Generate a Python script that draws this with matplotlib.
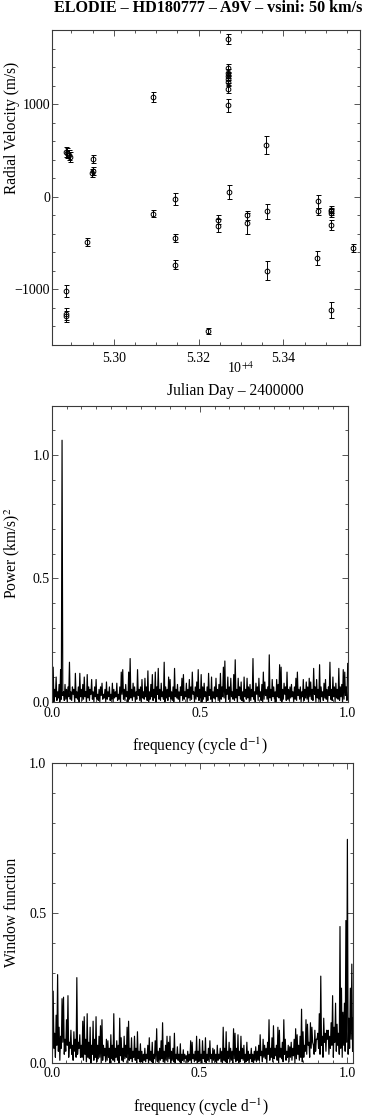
import numpy as np
import matplotlib
matplotlib.use("Agg")
import matplotlib.pyplot as plt
from matplotlib.ticker import MultipleLocator, FuncFormatter

# ---------------- data ----------------
# Radial velocities (ELODIE, HD180777)
jd = [52886.0, 52886.0, 52886.0, 52887.0, 52890.0, 52893.0, 52896.0,
      52935.5, 52949.7, 52949.7, 52949.0,
      53092.8, 53092.8, 53144.0, 53145.0, 53145.0, 53222.7, 53246.0, 53247.0,
      53268.5, 53268.5, 53268.5, 53268.5, 53268.5, 53268.5, 53268.5, 53270.0, 53272.0,
      53314.8, 53314.8, 53358.0, 53360.6, 53360.6,
      53481.0, 53481.0, 53480.0,
      53512.6, 53512.6, 53512.6, 53512.6, 53512.6, 53565.0]
rv = [-1014, -1265, -1290, 485, 470, 455, 430,
      -489, 407, 280, 260,
      1075, -183, -22, -446, -734, -1446, -248, -313,
      1701, 1388, 1340, 1300, 1270, 1240, 1162, 989, 50,
      -201, -288, 561, -158, -798,
      -50, -158, -662,
      -140, -158, -175, -302, -1219, -553]
rv_err = [67, 68, 60, 55, 55, 55, 55,
          40, 45, 45, 45,
          56, 36, 63, 40, 48, 32, 48, 70,
          55, 40, 40, 40, 40, 40, 40, 70, 72,
          45, 110, 100, 85, 100,
          72, 40, 77,
          40, 40, 40, 55, 85, 48]

# Power spectrum: peak heights (hundredths of (km/s)^2) on a 0.005 c/d grid, 0..1
power_peaks = [
    9, 14, 5, 10, 4, 7, 13, 106, 4, 7, 5, 6, 16, 4, 6, 5, 11.5, 4, 6, 11.5,
    5, 7, 10, 4, 11, 6, 5, 9, 4, 6, 9, 3, 5, 6, 7.5, 3, 5, 8, 4, 6,
    3, 7.5, 5, 4, 7.5, 3, 6, 12, 13, 5, 7, 4, 12, 17.5, 5, 7.5, 6, 4, 13, 5,
    6, 9, 4, 9.5, 6, 12.5, 4, 7, 11, 5, 12, 6, 13.5, 5, 7.5, 4, 16, 6, 5, 10,
    9, 4, 6, 13.5, 5, 7, 4, 6, 9.5, 11, 4, 7.5, 5, 9, 6, 12, 4, 6, 8, 13,
    5, 11, 6, 7.5, 4, 6, 11.5, 5, 10, 4, 6, 9.5, 5, 7, 11.5, 6, 14, 16.5, 5, 10,
    6, 9.5, 4, 11, 17, 5, 9.5, 6, 8, 4, 10, 5, 9.5, 6, 7, 5, 17.5, 4, 7.5, 6,
    9.5, 4, 7, 12, 8, 5, 6, 19, 5, 9, 6, 4, 9, 7, 15, 14, 5, 7.5, 6, 12,
    5, 6, 7, 4, 6, 9.5, 12, 5, 6, 4, 9, 5, 8, 6, 9.5, 8, 5, 13.5, 6, 9,
    5, 15, 6, 4, 7.5, 9, 5, 6, 16, 5, 10, 6, 7.5, 5, 13.5, 6, 7, 13, 12, 6,
    15.5]
power_troughs = [
    1, 0, 2, 0.5, 1.5, 0, 1, 2.5, 0.5, 1, 0, 2, 1, 0.5, 3, 0, 1.5, 1, 0, 2,
    0.5, 1, 2, 0, 1.5, 0.5, 3, 1, 0, 2, 1, 0.5, 0, 2.5, 1, 1.5, 0, 1, 2, 0.5,
    1, 0, 1.5, 2, 0.5, 1, 0, 3, 1, 0.5, 2, 0, 1, 1.5, 0.5, 2, 0, 1, 2.5, 0.5,
    0, 1.5, 1, 2, 0.5, 0, 1, 2, 0.5, 1.5, 0, 3, 1, 0.5, 2, 1, 0, 1.5, 0.5, 2,
    1, 0.5, 0, 2, 1.5, 1, 0, 2.5, 0.5, 1, 2, 0, 1.5, 0.5, 1, 3, 0, 1, 2, 0.5,
    1.5, 0, 1, 2, 0, 0.5, 2.5, 1, 0, 1.5, 1, 2, 0.5, 0, 1, 2, 1.5, 0, 3, 1,
    0, 2, 1, 0.5, 1.5, 0, 2.5, 1, 0.5, 0, 2, 1, 1.5, 0, 0.5, 2, 1, 0, 3, 0.5,
    2, 0.5, 0, 1, 2.5, 1, 0, 1.5, 0.5, 2, 1, 0, 2, 1.5, 0.5, 0, 1, 3, 0.5, 1,
    0.5, 1.5, 2, 0, 1, 0.5, 2.5, 1, 0, 2, 0.5, 1.5, 1, 0, 2, 1, 0.5, 3, 0, 1.5,
    1, 0, 2, 0.5, 1.5, 1, 0, 2.5, 1, 0.5, 2, 0, 1.5, 1, 0.5, 2, 0, 1, 2.5, 0.5]

# Window function: peak heights (hundredths) on a 0.005 c/d grid, 0..1.02
window_peaks = [
    20.5, 24, 10, 16, 29.5, 12, 9, 21.5, 22, 8, 14.5, 22.5, 7, 11, 6, 10.5, 8, 28.5, 7, 9.5,
    6, 14, 15.5, 8, 16.5, 7, 12, 6, 14, 8, 15.5, 6, 9, 12.5, 14.5, 6, 5, 8, 7.5, 5,
    9.5, 6, 16.5, 5, 7.5, 6, 15, 8.5, 5, 9, 6, 12, 14, 5, 8.5, 4, 9, 5, 10.5, 4,
    6.5, 4, 3, 5, 3, 6, 8.5, 4, 7, 3, 7.5, 11.5, 4, 5, 7.5, 13.5, 4, 6, 9, 7,
    9, 4, 5, 10, 3, 5.5, 3, 6.5, 3, 4.5, 3, 2.5, 4, 3, 7.5, 7, 3, 4, 9, 4,
    8, 3, 7.5, 4, 8.5, 3, 5, 7.5, 3, 5, 4.5, 3, 6, 3, 5, 4, 12, 5, 10.5, 4,
    7, 5, 4, 11.5, 10, 5, 9.5, 4, 9, 5, 6, 3, 7, 4, 3, 5, 3, 4, 5.5, 4,
    6, 9.5, 4, 8, 6, 5, 7, 14.5, 5, 8.5, 12.5, 5, 6, 12, 11, 5, 7, 14.5, 8, 4,
    6, 5.5, 7, 5, 8, 11.5, 9.5, 6, 9, 18, 10.5, 6, 14.5, 13, 7, 13.5, 12, 6, 11, 8,
    10, 16.5, 29, 9, 15, 10, 11, 11, 9, 13.5, 22.5, 12, 20, 13, 10, 45.5, 25, 17, 20, 47.5,
    74.5, 15, 25, 33, 15]
window_troughs = [
    3, 5, 2, 6, 4, 1, 5, 7, 3, 4, 6, 2, 5, 3, 1, 4, 2, 3, 5, 2,
    2, 1, 3, 0.5, 2, 1.5, 0, 3, 1, 2, 0.5, 1.5, 2, 0, 1, 2.5, 0.5, 1, 2, 0,
    1.5, 1, 0.5, 2, 1, 0, 2.5, 1, 0.5, 1.5, 2, 0, 1, 1.5, 0.5, 2, 1, 0, 1.5, 0.5,
    0.5, 0, 1, 0.5, 1.5, 0, 1, 0.5, 0, 1.5, 1, 0.5, 0, 1, 1.5, 0.5, 0, 1, 0.5, 1.5,
    0, 1, 0.5, 0, 1.5, 1, 0.5, 0, 1, 0.5, 1.5, 0, 0.5, 1, 0, 1.5, 0.5, 1, 0, 0.5,
    1, 0, 1.5, 0.5, 0, 1, 0.5, 1.5, 0, 1, 0.5, 0, 1, 1.5, 0.5, 0, 1, 0.5, 0, 1.5,
    0.5, 1, 0, 1.5, 0.5, 1, 0, 0.5, 1.5, 1, 0, 0.5, 1, 0, 1.5, 0.5, 0, 1, 0.5, 1,
    1, 2.5, 0.5, 2, 1.5, 0, 3, 1, 2, 0.5, 1.5, 2.5, 1, 0, 2, 1.5, 0.5, 3, 1, 2,
    0.5, 2, 1, 2.5, 0, 1.5, 3, 1, 2, 0.5, 2, 4, 3, 6, 2, 5, 7, 3, 4, 8,
    5, 3, 6, 2, 7, 4, 8, 3, 5, 6, 2, 7, 4, 6, 3, 5, 2, 6, 4, 7, 3, 5, 8, 4]

# ---------------- style ----------------
plt.rcParams['font.family'] = ['Liberation Serif', 'DejaVu Serif']
plt.rcParams['mathtext.fontset'] = 'stix'
FRAME = '#3a3a3a'

W, H = 368, 1118
fig = plt.figure(figsize=(W / 100, H / 100), dpi=100)


def px_axes(left, top, right, bottom):
    return fig.add_axes([left / W, 1 - bottom / H, (right - left) / W, (bottom - top) / H])


def style(ax, xpad):
    for s in ax.spines.values():
        s.set_color(FRAME)
        s.set_linewidth(0.8)
    ax.tick_params(which='both', direction='in', top=True, right=True,
                   colors=FRAME, labelcolor='black', labelsize=10, width=0.6)
    ax.tick_params(which='major', length=4.5)
    ax.tick_params(which='minor', length=2.4)
    ax.tick_params(axis='y', pad=1.5)
    ax.tick_params(axis='x', pad=xpad)


def zigzag(peaks, troughs, fmax):
    p = np.asarray(peaks, float) / 100.0
    t = np.asarray(troughs, float) / 100.0
    f = np.linspace(0, fmax, len(p))
    x = np.empty(2 * len(p) - 1)
    y = np.empty_like(x)
    x[0::2] = f
    x[1::2] = 0.5 * (f[:-1] + f[1:])
    y[0::2] = p
    y[1::2] = t
    return x, y


def ftext(xpx, ypx, s, **kw):
    fig.text(xpx / W, 1 - ypx / H, s, ha='center', va='center', **kw)


# ---- Panel 1: radial velocities ----
ax1 = px_axes(52, 30, 360, 345)
ax1.errorbar(jd, rv, yerr=rv_err, fmt='o', mfc='none', mec='black', ecolor='black',
             ms=3.4, mew=0.7, elinewidth=0.7, capsize=1.8, capthick=0.7)
ax1.set_xlim(52854, 53581)
ax1.set_ylim(-1600, 1800)
ax1.xaxis.set_major_locator(MultipleLocator(200))
ax1.xaxis.set_minor_locator(MultipleLocator(50))
ax1.xaxis.set_major_formatter(FuncFormatter(lambda v, p: f"{v / 1e4:.2f}"))
ax1.yaxis.set_major_locator(MultipleLocator(1000))
ax1.yaxis.set_minor_locator(MultipleLocator(200))
ax1.yaxis.set_major_formatter(FuncFormatter(lambda v, p: f"{v:.0f}".replace('-', '\u2212')))
style(ax1, 5.0)

ftext(208, 8, "ELODIE \u2013 HD180777 \u2013 A9V \u2013 vsini: 50 km/s", fontsize=11.6, fontweight='bold')
ftext(241, 368, r"10$^{+4}$", fontsize=10)
ftext(235, 391, "Julian Day \u2013 2400000", fontsize=11.2)
ftext(12, 128, "Radial Velocity (m/s)", fontsize=11.2, rotation=90)

# ---- Panel 2: power spectrum ----
ax2 = px_axes(51.7, 405.7, 347.7, 701.7)
fx, fy = zigzag(power_peaks, power_troughs, 1.0)
ax2.plot(fx, fy, color='black', lw=0.85)
ax2.set_xlim(0, 1.0)
ax2.set_ylim(0, 1.2)
ax2.xaxis.set_major_locator(MultipleLocator(0.5))
ax2.xaxis.set_minor_locator(MultipleLocator(0.05))
ax2.yaxis.set_major_locator(MultipleLocator(0.5))
ax2.yaxis.set_minor_locator(MultipleLocator(0.1))
ax2.xaxis.set_major_formatter(FuncFormatter(lambda v, p: f"{v:.1f}"))
ax2.yaxis.set_major_formatter(FuncFormatter(lambda v, p: f"{v:.1f}"))
style(ax2, 4.0)
ftext(12, 553, r"Power (km/s)$^2$", fontsize=11.2, rotation=90)
ftext(200, 746, r"frequency (cycle d$^{-1}$)", fontsize=11.2)

# ---- Panel 3: window function ----
ax3 = px_axes(51.7, 762.7, 353.3, 1063.3)
wx, wy = zigzag(window_peaks, window_troughs, 1.02)
ax3.plot(wx, wy, color='black', lw=0.85)
ax3.set_xlim(0, 1.02)
ax3.set_ylim(0, 1.0)
ax3.xaxis.set_major_locator(MultipleLocator(0.5))
ax3.xaxis.set_minor_locator(MultipleLocator(0.05))
ax3.yaxis.set_major_locator(MultipleLocator(0.5))
ax3.yaxis.set_minor_locator(MultipleLocator(0.1))
ax3.xaxis.set_major_formatter(FuncFormatter(lambda v, p: f"{v:.1f}"))
ax3.yaxis.set_major_formatter(FuncFormatter(lambda v, p: f"{v:.1f}"))
style(ax3, 2.5)
ax3.tick_params(axis='y', pad=4.0)
ftext(12, 912, "Window function", fontsize=11.2, rotation=90)
ftext(201, 1107, r"frequency (cycle d$^{-1}$)", fontsize=11.2)

fig.savefig("out.png", dpi=100)
